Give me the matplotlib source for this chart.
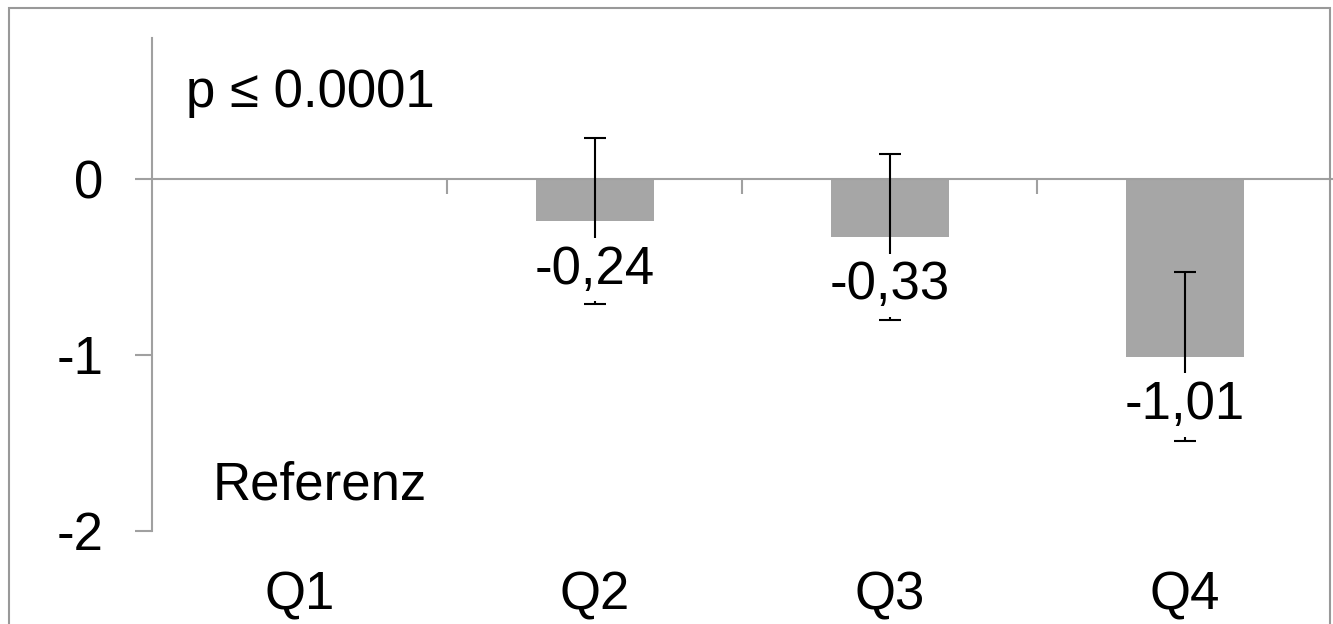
import matplotlib.pyplot as plt
import numpy as np
from matplotlib.patches import Rectangle

plt.rcParams['font.family'] = ['Liberation Sans', 'DejaVu Sans']

# data
categories = ['Q1', 'Q2', 'Q3', 'Q4']
values = [0.0, -0.24, -0.33, -1.01]
errors = [0.0, 0.47, 0.47, 0.48]
labels = ['', '-0,24', '-0,33', '-1,01']
yticks = [0, -1, -2]

gray = '#a0a0a0'
fs = 38

fig = plt.figure(figsize=(13.33, 6.24), dpi=100)
ax = fig.add_axes([152 / 1333, 93 / 624, 1180 / 1333, 493 / 624])

x = np.arange(len(categories))
# Q1 is the reference, no bar
ax.bar(x[1:], values[1:], width=0.4, color='#a6a6a6', zorder=2)
ax.errorbar(x[1:], values[1:], yerr=errors[1:], fmt='none', ecolor='black',
            elinewidth=1.5, capsize=8, capthick=1.5, zorder=3)

for xi, v, lab in zip(x, values, labels):
    if lab:
        ax.annotate(lab, (xi, v), xytext=(0, -45), textcoords='offset points',
                    ha='center', va='baseline', fontsize=fs, zorder=4,
                    bbox=dict(boxstyle='square,pad=0.13', fc='white', ec='none'))

ax.set_xlim(-0.5, 3.5)
ax.set_ylim(-2, 0.8)

for s in ['top', 'right']:
    ax.spines[s].set_visible(False)
ax.spines['left'].set_color(gray)
ax.spines['left'].set_linewidth(1.5)
ax.spines['bottom'].set_position(('data', 0))
ax.spines['bottom'].set_color(gray)
ax.spines['bottom'].set_linewidth(1.5)

ax.set_yticks(yticks)
ax.set_yticklabels([str(t) for t in yticks])
ax.tick_params(axis='y', length=12, width=1.5, color=gray, pad=23, labelsize=fs)

ax.set_xticks([0.5, 1.5, 2.5])
ax.set_xticklabels([])
ax.tick_params(axis='x', which='major', length=11, width=1.5, color=gray, direction='out')
ax.set_xticks(x, minor=True)
ax.set_xticklabels(categories, minor=True)
ax.tick_params(axis='x', which='minor', length=0, pad=282, labelsize=fs)

ax.text(-0.385, 0.49, 'p ≤ 0.0001', fontsize=38, va='center', ha='left')
ax.text(-0.293, -1.74, 'Referenz', fontsize=fs, va='center', ha='left')

# outer frame
fig.patches.append(Rectangle((9 / 1333, -0.1), 1321 / 1333, 1.1 - 8 / 624,
                             transform=fig.transFigure, fill=False,
                             ec='#999999', lw=1.5))

fig.savefig('out.png', dpi=100)
